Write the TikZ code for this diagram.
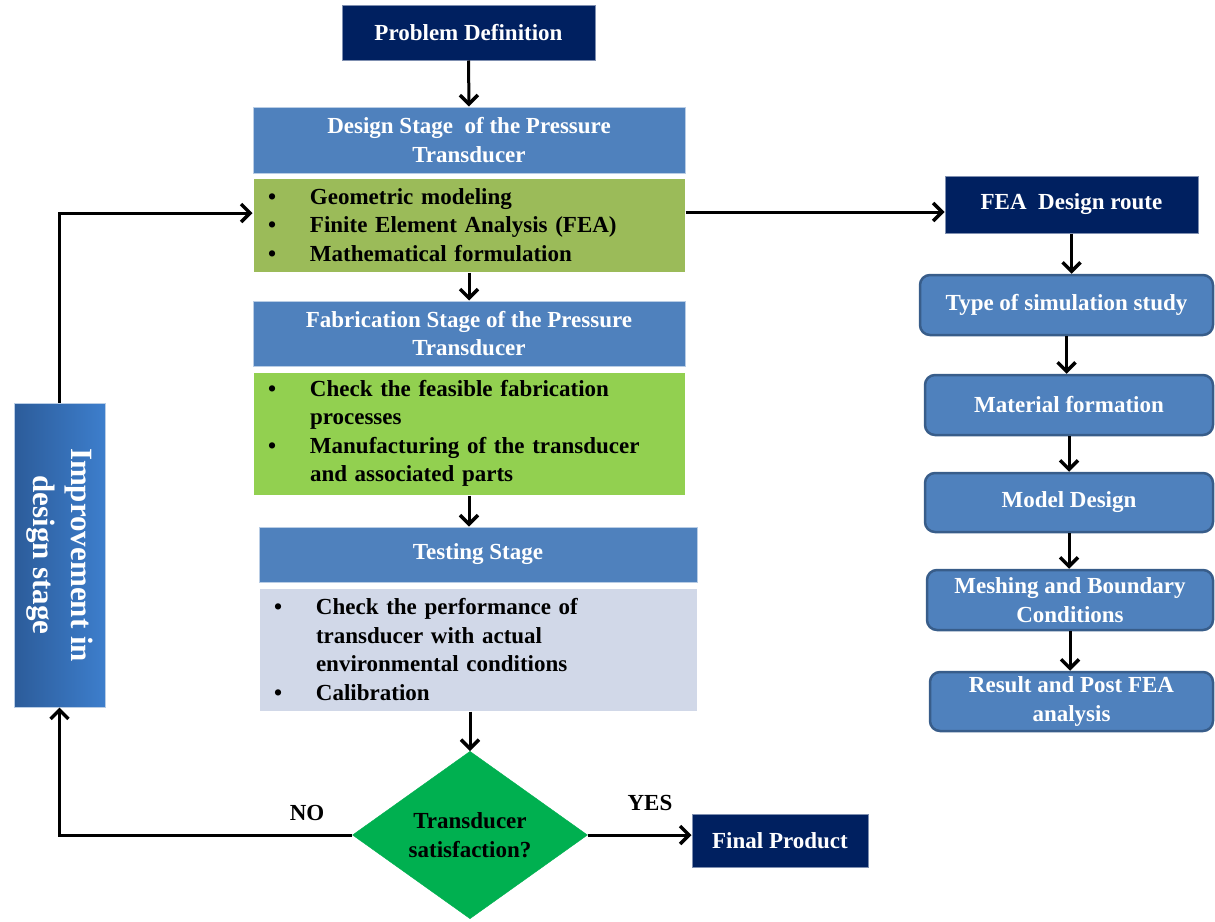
\documentclass[tikz,border=0pt]{standalone}
\usepackage{fontspec}
\setmainfont{Liberation Serif}
\usetikzlibrary{arrows.meta,shapes.geometric,calc}
\definecolor{navy}{HTML}{002060}
\definecolor{navyedge}{HTML}{7F8FB0}
\definecolor{hdrblue}{HTML}{4F81BD}
\definecolor{hdredge}{HTML}{B9CDE5}
\definecolor{greenA}{HTML}{9BBB59}
\definecolor{greenB}{HTML}{92D050}
\definecolor{testbg}{HTML}{D1D8E8}
\definecolor{dgreen}{HTML}{00B050}
\definecolor{rboxedge}{HTML}{385D8A}
\definecolor{impL}{HTML}{2C5C9A}
\definecolor{impR}{HTML}{3D7ECC}
\newcommand\bul{\makebox[42pt][l]{•}}
\newcommand\ind{\hspace*{42pt}}
\begin{document}
\begin{tikzpicture}[x=1pt,y=-1pt,
  base/.style={font=\fontsize{23}{28.5}\selectfont\bfseries, inner sep=0pt},
  navybox/.style={base, fill=navy, draw=navyedge, line width=1pt, text=white, align=center},
  hdr/.style={base, fill=hdrblue, draw=hdredge, line width=1pt, text=white, align=center},
  listbox/.style={base, draw=white, line width=1pt, align=left, inner xsep=15pt},
  rbox/.style={base, rounded corners=10pt, fill=hdrblue, draw=rboxedge, line width=2.5pt, text=white, align=center},
  arr/.style={line width=3pt, -{Straight Barb[length=9pt,width=18pt,line width=3.5pt]}},
]
\useasboundingbox (0,0) rectangle (1215,921);

% left column
\node[navybox, minimum width=253pt, minimum height=55pt] (pd) at (468.5,32.5) {Problem Definition};
\node[hdr, minimum width=432pt, minimum height=66pt, text depth=0pt] (h1) at (469,140) {Design Stage~ of the Pressure\\Transducer};
\node[listbox, fill=greenA, minimum width=432pt, minimum height=94pt, text width=402pt] (g1) at (469,225)
  {\bul Geometric modeling\\\bul Finite Element Analysis (FEA)\\\bul Mathematical formulation};
\node[hdr, minimum width=432pt, minimum height=65pt] (h2) at (469,333.5) {Fabrication Stage of the Pressure\\Transducer};
\node[listbox, fill=greenB, minimum width=432pt, minimum height=123pt, text width=402pt] (g2) at (469,433.5)
  {\bul Check the feasible fabrication\\\ind processes\\\bul Manufacturing of the transducer\\\ind and associated parts};
\node[hdr, minimum width=438pt, minimum height=55pt] (h3) at (478,554.5) {Testing Stage};
\node[listbox, fill=testbg, minimum width=438pt, minimum height=123pt, text width=408pt] (tb) at (478,649.5)
  {\bul Check the performance of\\\ind transducer with actual\\\ind environmental conditions\\\bul Calibration};
\node[base, diamond, fill=dgreen, draw=dgreen, minimum width=235pt, minimum height=167pt, align=center] (dec) at (470,835)
  {Transducer\\satisfaction?};
\node[navybox, minimum width=176pt, minimum height=53pt] (fp) at (780,840.5) {Final Product};

% improvement box (rotated text)
\node[font=\fontsize{31}{38}\selectfont\bfseries, inner sep=0pt, rotate=-90, minimum width=304pt, minimum height=91pt,
  left color=impL, right color=impR, draw=hdredge, line width=1pt, text=white, align=center] (imp) at (59.5,555)
  {Improvement in\\design stage};

% right column
\node[navybox, minimum width=253pt, minimum height=57pt] (fea) at (1071.5,204.5) {FEA~ Design route};
\node[rbox, minimum width=293pt, minimum height=60pt] (r1) at (1066.5,305) {Type of simulation study};
\node[rbox, minimum width=288pt, minimum height=60pt] (r2) at (1069,405) {Material formation};
\node[rbox, minimum width=288pt, minimum height=59pt] (r3) at (1069,502.5) {Model Design};
\node[rbox, minimum width=286pt, minimum height=60pt] (r4) at (1070,600) {Meshing and Boundary\\Conditions};
\node[rbox, minimum width=283pt, minimum height=59pt] (r5) at (1071.5,701.5) {Result and Post FEA\\analysis};

% labels
\node[base] (yes) at (650,803) {YES};
\node[base] (no) at (307,813) {NO};

% connectors
\draw[arr] (pd.south) -- (h1.north);
\draw[arr] (g1.south) -- (h2.north);
\draw[arr] (g2.south) -- (g2.south |- h3.north);
\draw[arr] (dec.north |- tb.south) -- (dec.north);
\draw[arr] (dec.east) -- (dec.east -| fp.west);
\draw[arr] (dec.west) -| (imp.east);
\draw[arr] (imp.west) |- ([yshift=12pt]g1.west);
\draw[arr] ([yshift=13pt]g1.east) -- ([yshift=13pt]g1.east -| fea.west);
\draw[arr] (fea.south) -- (fea.south |- r1.north);
\draw[arr] (r1.south) -- (r1.south |- r2.north);
\draw[arr] (r2.south) -- (r2.south |- r3.north);
\draw[arr] (r3.south) -- (r3.south |- r4.north);
\draw[arr] (r4.south) -- (r4.south |- r5.north);
\end{tikzpicture}
\end{document}
